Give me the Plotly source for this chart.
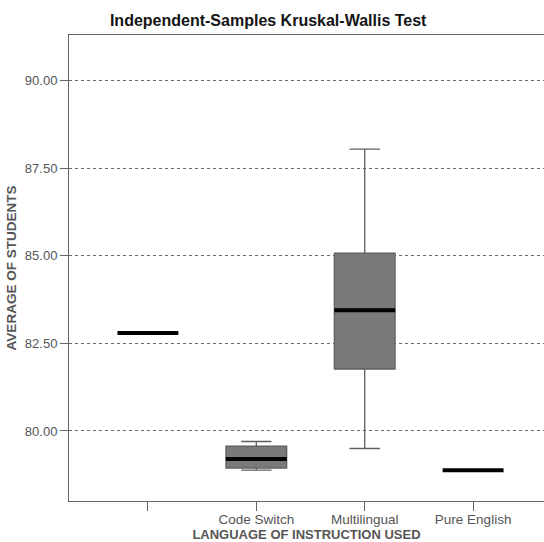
import plotly.graph_objects as go

categories = [" ", "Code Switch", "Multilingual", "Pure English"]
medians = [82.8, 79.2, 83.45, 78.88]

box_categories = ["Code Switch", "Multilingual"]
box_lower = [78.88, 79.5]
box_q1 = [78.94, 81.77]
box_median = [79.2, 83.45]
box_q3 = [79.57, 85.08]
box_upper = [79.7, 88.05]

y_ticks = [80.0, 82.5, 85.0, 87.5, 90.0]

GREY = "rgb(85,85,85)"
FONT = "Liberation Sans, Arial, sans-serif"

fig = go.Figure()
fig.add_trace(go.Box(
    x=box_categories,
    lowerfence=box_lower, q1=box_q1, median=box_median, q3=box_q3, upperfence=box_upper,
    fillcolor="rgb(122,122,122)",
    line=dict(color="rgb(95,95,95)", width=1.3),
    width=0.56,
    whiskerwidth=0.5,
    boxpoints=False,
    hoverinfo="skip",
    showlegend=False,
))
fig.add_trace(go.Scatter(
    x=categories, y=medians, mode="markers",
    marker=dict(symbol="line-ew", size=43.5, line=dict(color="black", width=4)),
    showlegend=False, hoverinfo="skip",
))

fig.update_layout(
    width=544, height=542,
    margin=dict(l=69, r=0, t=35, b=41, autoexpand=False),
    paper_bgcolor="white", plot_bgcolor="white",
    font=dict(family=FONT, size=13, color=GREY),
    title=dict(text="<b>Independent-Samples Kruskal-Wallis Test</b>",
               font=dict(size=16, color="rgb(20,20,20)", family=FONT),
               x=0.493, xref="container", xanchor="center", y=0.962, yref="container", yanchor="middle"),
)
fig.update_xaxes(
    type="category", categoryorder="array", categoryarray=categories,
    range=[-0.728, 3.654], automargin=False,
    showline=True, mirror=True, linecolor="rgb(100,100,100)", linewidth=1,
    ticks="outside", ticklen=9, tickcolor="rgb(100,100,100)",
    ticklabelstandoff=-3,
    showgrid=False, zeroline=False,
    tickfont=dict(size=13.5, color=GREY),
    title=dict(text="<b>LANGUAGE OF INSTRUCTION USED</b>", font=dict(size=13, color=GREY), standoff=4),
)
fig.update_yaxes(
    range=[78.0, 91.31], automargin=False,
    tickvals=y_ticks, tickformat=".2f",
    showline=True, mirror=False, linecolor="rgb(100,100,100)", linewidth=1,
    ticks="outside", ticklen=8, tickcolor="rgb(100,100,100)",
    showgrid=True, gridcolor="rgb(105,105,105)", griddash="3px,3px", gridwidth=1,
    zeroline=False,
    tickfont=dict(size=13, color=GREY),
    title=dict(text="<b>AVERAGE OF STUDENTS</b>", font=dict(size=13.5, color=GREY), standoff=5),
)

fig.write_html("out.html", config={"displayModeBar": False},
               post_script="document.body.style.margin='0';document.body.style.overflow='hidden';")
